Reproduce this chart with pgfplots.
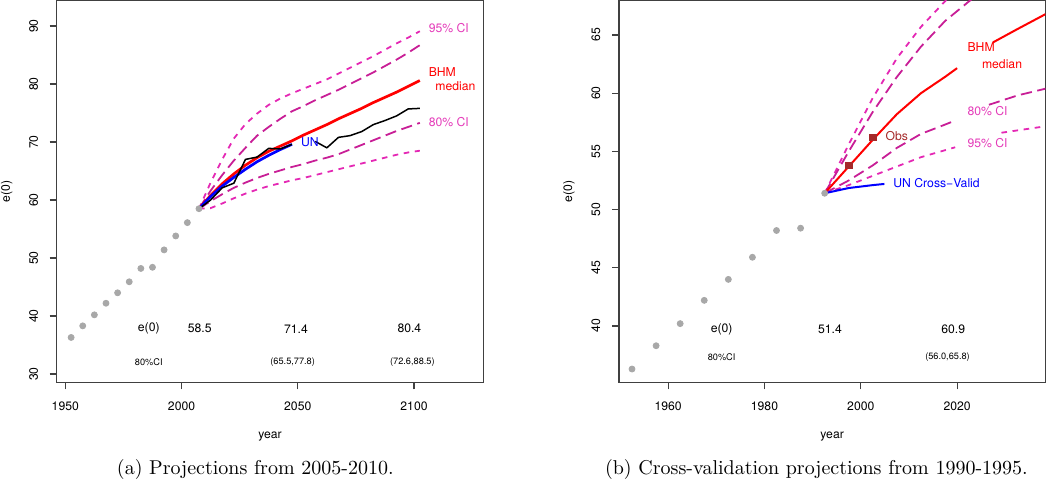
\documentclass[border=0pt]{standalone}
\usepackage{fontspec}
\usepackage{pgfplots}
\pgfplotsset{compat=1.18}
\newfontfamily\hel{TeX Gyre Heros}
\definecolor{pinkA}{RGB}{228,40,180}
\definecolor{magB}{RGB}{200,30,150}
\definecolor{pinkL}{RGB}{228,60,185}
\definecolor{ptgray}{RGB}{168,168,168}
\definecolor{obs}{RGB}{165,42,42}
\newcommand{\mt}{\hel\fontsize{6.1}{7}\selectfont}
\newcommand{\st}{\hel\fontsize{4.6}{5.5}\selectfont}
\pgfplotsset{rstyle/.style={
  scale only axis, anchor=south west,
  axis line style={black!75, line width=0.6pt},
  every tick/.style={black!75, line width=0.6pt},
  tick align=outside, major tick length=3.5pt,
  xtick pos=bottom, ytick pos=left,
  /pgf/number format/assume math mode=true,
  /pgf/number format/1000 sep={},
  tick label style={font=\mt},
  xticklabel style={anchor=center, yshift=-8.35pt},
  yticklabel style={rotate=90, anchor=center, yshift=8pt},
  label style={font=\mt},
  xlabel style={at={(axis description cs:0.5,0)}, anchor=center, yshift=-26.9pt},
  ylabel style={at={(axis description cs:0,0.5)}, anchor=center, yshift=25pt},
  unbounded coords=jump,
  clip=true,
  xlabel={year}, ylabel={e(0)},
  every node/.append style={inner sep=0pt},
},
sdash/.style={pinkA, line width=0.9pt, dash pattern=on 2.8pt off 2.8pt},
ldash/.style={magB, line width=0.9pt, dash pattern=on 5.6pt off 2.8pt},
}
\begin{document}
\begin{tikzpicture}
\path[use as bounding box] (0,0) rectangle (525pt,240.5pt);
% ---------------- left panel ----------------
\begin{axis}[rstyle, at={(28.35pt,49.35pt)}, width=213.3pt, height=190.9pt,
  xmin=1946.3, xmax=2129.8, ymin=28.57, ymax=94.4,
  xtick={1950,2000,2050,2100}, ytick={30,40,50,60,70,80,90}]
\addplot[only marks, mark=*, mark size=1.5pt, ptgray] coordinates {
(1952.5,36.3)(1957.5,38.3)(1962.5,40.2)(1967.5,42.2)(1972.5,44.0)(1977.5,45.9)
(1982.5,48.2)(1987.5,48.4)(1992.5,51.4)(1997.5,53.8)(2002.5,56.1)(2007.5,58.5)};
% 95% upper
\addplot[sdash] coordinates {
(2007.5,58.5)(2012.5,63.0)(2017.5,67.0)(2022.5,70.6)(2027.5,73.1)(2032.5,74.9)(2037.5,76.4)
(2042.5,77.5)(2047.5,78.4)(2052.5,79.2)(2057.5,80.0)(2062.5,80.8)(2067.5,81.8)(2072.5,82.8)
(2077.5,83.8)(2082.5,84.8)(2087.5,85.9)(2092.5,87.0)(2097.5,88.0)(2102.5,89.1)};
% 80% upper
\addplot[ldash] coordinates {
(2007.5,58.5)(2012.5,61.6)(2017.5,64.3)(2022.5,66.8)(2027.5,69.0)(2032.5,71.1)(2037.5,72.6)
(2042.5,74.0)(2047.5,75.3)(2052.5,76.2)(2057.5,77.2)(2062.5,78.1)(2067.5,79.0)(2072.5,80.0)
(2077.5,81.0)(2082.5,82.0)(2087.5,83.1)(2092.5,84.2)(2097.5,85.4)(2102.5,86.7)};
% 80% lower
\addplot[ldash] coordinates {
(2007.5,58.5)(2012.5,59.8)(2017.5,61.0)(2022.5,62.1)(2027.5,63.0)(2032.5,63.8)(2037.5,64.5)
(2042.5,65.1)(2047.5,65.7)(2052.5,66.2)(2057.5,66.8)(2062.5,67.3)(2067.5,67.9)(2072.5,68.7)
(2077.5,69.5)(2082.5,70.3)(2087.5,71.1)(2092.5,71.9)(2097.5,72.6)(2102.5,73.3)};
% 95% lower
\addplot[sdash] coordinates {
(2007.5,58.5)(2012.5,58.6)(2017.5,59.4)(2022.5,60.3)(2027.5,61.1)(2032.5,61.8)(2037.5,62.4)
(2042.5,62.9)(2047.5,63.4)(2052.5,63.8)(2057.5,64.3)(2062.5,64.8)(2067.5,65.3)(2072.5,65.8)
(2077.5,66.3)(2082.5,66.8)(2087.5,67.3)(2092.5,67.8)(2097.5,68.2)(2102.5,68.5)};
% BHM median
\addplot[red, line width=1.35pt] coordinates {
(2007.5,58.5)(2012.5,60.8)(2017.5,62.8)(2022.5,64.5)(2027.5,66.0)(2032.5,67.3)(2037.5,68.4)
(2042.5,69.3)(2047.5,70.2)(2052.5,71.2)(2057.5,72.1)(2062.5,73.0)(2067.5,74.0)(2072.5,74.9)
(2077.5,75.8)(2082.5,76.8)(2087.5,77.7)(2092.5,78.6)(2097.5,79.6)(2102.5,80.6)};
% UN
\addplot[blue, line width=1.35pt] coordinates {
(2007.5,58.5)(2012.5,60.6)(2017.5,62.4)(2022.5,63.9)(2027.5,65.3)(2032.5,66.6)(2037.5,67.7)
(2042.5,68.7)(2047.5,69.6)};
% trajectory
\addplot[black, line width=0.75pt] coordinates {
(2007.5,58.5)(2012.5,60.0)(2017.5,62.1)(2022.5,62.9)(2027.5,67.0)(2032.5,67.4)(2037.5,68.9)
(2042.5,68.8)(2047.5,69.6)(2052.5,nan)(2057.5,70.1)(2062.5,69.0)(2067.5,70.8)(2072.5,71.1)
(2077.5,71.8)(2082.5,73.0)(2087.5,73.7)(2092.5,74.5)(2097.5,75.7)(2102.5,75.8)};
\node[anchor=west, text=pinkL, font=\mt] at (axis cs:2103.3,89.65) {95\% CI};
\node[anchor=west, text=red, font=\mt] at (axis cs:2103.3,82.07) {BHM};
\node[anchor=west, text=red, font=\mt] at (axis cs:2106.2,79.7) {median};
\node[anchor=west, text=pinkL, font=\mt] at (axis cs:2103.3,73.4) {80\% CI};
\node[anchor=west, text=blue, font=\mt] at (axis cs:2048.4,69.93) {UN};
\node[font=\mt] at (axis cs:1985.9,37.8) {e(0)};
\node[font=\mt] at (axis cs:2007.8,37.8) {58.5};
\node[font=\mt] at (axis cs:2049.2,37.8) {71.4};
\node[font=\mt] at (axis cs:2098.0,37.8) {80.4};
\node[font=\st] at (axis cs:1985.9,32.1) {80\%CI};
\node[font=\st] at (axis cs:2047.8,32.1) {(65.5,77.8)};
\node[font=\st] at (axis cs:2099.3,32.1) {(72.6,88.5)};
\end{axis}
% ---------------- right panel ----------------
\begin{axis}[rstyle, at={(309.5pt,49.35pt)}, width=213.15pt, height=190.9pt,
  xmin=1949.8, xmax=2038.3, ymin=35.16, ymax=67.96,
  xtick={1960,1980,2000,2020}, ytick={40,45,50,55,60,65}]
\addplot[only marks, mark=*, mark size=1.5pt, ptgray] coordinates {
(1952.5,36.3)(1957.5,38.3)(1962.5,40.2)(1967.5,42.2)(1972.5,44.0)(1977.5,45.9)
(1982.5,48.2)(1987.5,48.4)(1992.5,51.4)};
\addplot[sdash] coordinates {
(1992.5,51.4)(1997.5,55.6)(2002.5,59.6)(2007.5,63.0)(2012.5,65.7)(2017.5,67.9)(2022.5,70.0)};
\addplot[ldash] coordinates {
(1992.5,51.4)(1997.5,55.0)(2002.5,58.4)(2007.5,61.4)(2012.5,64.0)(2017.5,66.2)(2022.5,67.9)(2027.5,69.5)};
\addplot[ldash] coordinates {
(1992.5,51.4)(1997.5,52.5)(2002.5,53.8)(2007.5,55.3)(2012.5,56.5)(2017.5,57.3)(2019.6,57.65)
(2023,nan)(2026.6,59.0)(2032.5,59.8)(2037.5,60.3)(2042.5,60.8)};
\addplot[sdash] coordinates {
(1992.5,51.4)(1997.5,52.1)(2002.5,52.9)(2007.5,53.7)(2012.5,54.5)(2017.5,55.1)(2019.6,55.35)
(2024,nan)(2029.2,56.6)(2032.5,56.8)(2037.5,57.1)(2042.5,57.35)};
\addplot[red, line width=1pt] coordinates {
(1992.5,51.4)(1997.5,53.7)(2002.5,56.0)(2007.5,58.2)(2012.5,60.0)(2017.5,61.4)(2020,62.15)
(2023,nan)(2027.4,64.35)(2032.5,65.5)(2037.5,66.6)(2042.5,67.7)};
\addplot[blue, line width=1pt] coordinates {
(1992.5,51.4)(1997.5,51.85)(2002.5,52.1)(2004.9,52.2)};
\addplot[only marks, mark=square*, mark size=1.65pt, obs] coordinates {
(1997.5,53.8)(2002.5,56.2)};
\node[anchor=west, text=red, font=\mt] at (axis cs:2020.7,64.0) {BHM};
\node[anchor=west, text=red, font=\mt] at (axis cs:2023.7,62.5) {median};
\node[anchor=west, text=pinkL, font=\mt] at (axis cs:2020.7,58.5) {80\% CI};
\node[anchor=west, text=pinkL, font=\mt] at (axis cs:2020.7,55.75) {95\% CI};
\node[anchor=west, text=obs, font=\mt] at (axis cs:2003.7,56.3) {Obs};
\node[anchor=west, text=blue, font=\mt] at (axis cs:2005.3,52.3) {UN Cross−Valid};
\node[font=\mt] at (axis cs:1971.1,39.7) {e(0)};
\node[font=\mt] at (axis cs:1993.6,39.7) {51.4};
\node[font=\mt] at (axis cs:2019.2,39.7) {60.9};
\node[font=\st] at (axis cs:1971.1,37.35) {80\%CI};
\node[font=\st] at (axis cs:2018.0,37.35) {(56.0,65.8)};
\end{axis}
% captions
\node[anchor=base, font=\fontsize{10}{12}\selectfont] at (127.65pt,3.1pt) {(a) Projections from 2005-2010.};
\node[anchor=base, font=\fontsize{10}{12}\selectfont] at (408.2pt,3.1pt) {(b) Cross-validation projections from 1990-1995.};
\end{tikzpicture}
\end{document}
